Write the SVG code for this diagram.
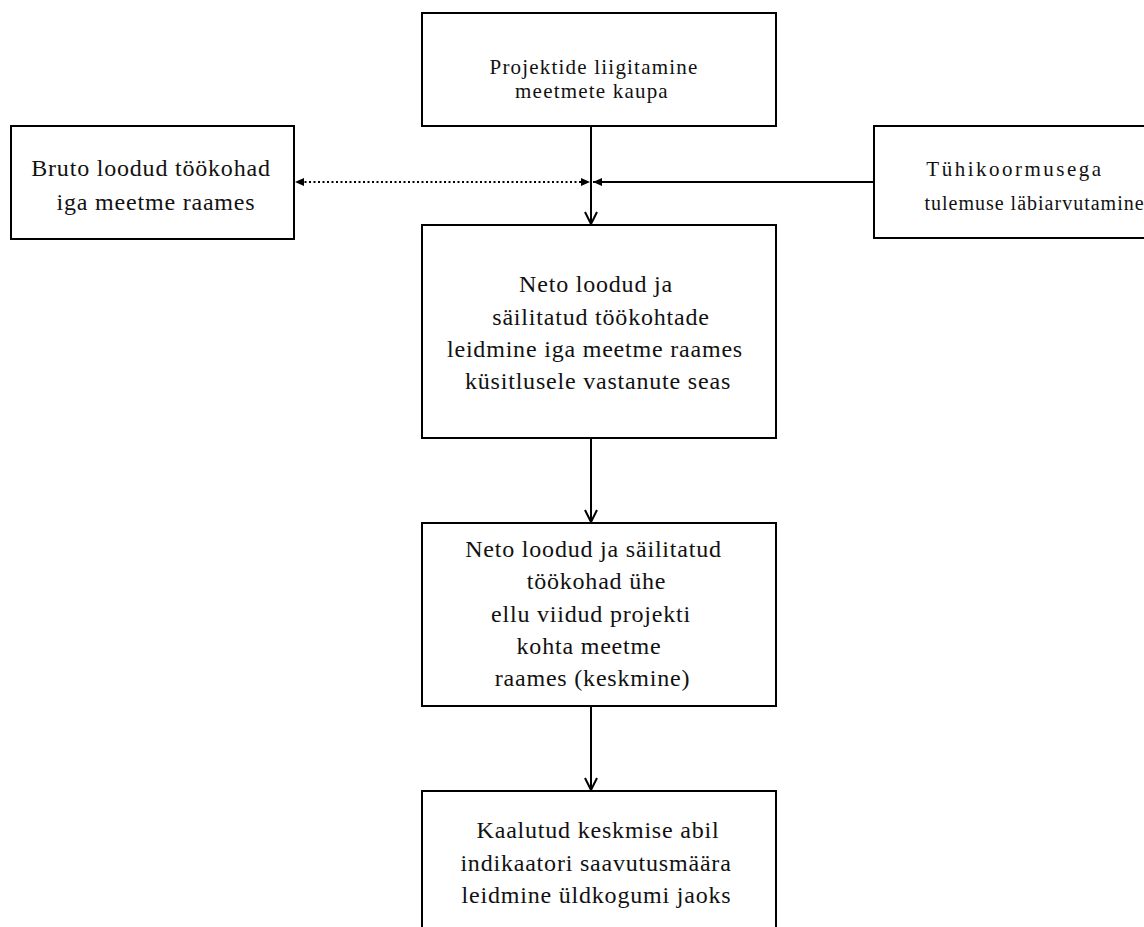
<svg xmlns="http://www.w3.org/2000/svg" width="1144" height="927" viewBox="0 0 1144 927">
<style>
.box{fill:#fff;stroke:#000;stroke-width:2}
.t{font-family:"Liberation Serif","Times New Roman",serif;fill:#111;text-anchor:middle;font-size:24px;letter-spacing:0.8px}
.ts{font-size:21px;letter-spacing:1.2px}
.tr{font-size:20px;letter-spacing:1px}
.tw{font-size:21px;letter-spacing:2.5px}
.ln{fill:none;stroke:#000;stroke-width:2}
.dot{fill:none;stroke:#000;stroke-width:2;stroke-dasharray:2 2.5}
</style>
<defs>
<marker id="open" markerWidth="14" markerHeight="16" refX="13" refY="7" orient="auto" markerUnits="userSpaceOnUse">
<path d="M1,1 L13,7 L1,13" fill="none" stroke="#000" stroke-width="2"/>
</marker>
<marker id="tri" markerWidth="10" markerHeight="10" refX="9" refY="5" orient="auto" markerUnits="userSpaceOnUse">
<path d="M0,1 L9,5 L0,9 Z" fill="#000"/>
</marker>
</defs>
<g id="n1">
<rect class="box" x="422" y="13" width="354" height="113"/>
<text class="t ts" x="594" y="74">Projektide liigitamine</text>
<text class="t ts" x="592" y="98">meetmete kaupa</text>
</g>
<g id="n2">
<rect class="box" x="11" y="126" width="283" height="113"/>
<text class="t" x="151" y="176">Bruto loodud töökohad</text>
<text class="t" x="156" y="210">iga meetme raames</text>
</g>
<g id="n3">
<rect class="box" x="874" y="126" width="290" height="112"/>
<text class="t tw" x="1015" y="176">Tühikoormusega</text>
<text class="t tr" x="1034.5" y="210">tulemuse läbiarvutamine</text>
</g>
<g id="n4">
<rect class="box" x="422" y="225" width="354" height="213"/>
<text class="t" x="596" y="292">Neto loodud ja</text>
<text class="t" x="601" y="325">säilitatud töökohtade</text>
<text class="t" x="595" y="357">leidmine iga meetme raames</text>
<text class="t" x="598" y="389">küsitlusele vastanute seas</text>
</g>
<g id="n5">
<rect class="box" x="422" y="523" width="354" height="183"/>
<text class="t" x="593.5" y="557">Neto loodud ja säilitatud</text>
<text class="t" x="596.5" y="589">töökohad ühe</text>
<text class="t" x="591" y="622">ellu viidud projekti</text>
<text class="t" x="589" y="654">kohta meetme</text>
<text class="t" x="592.5" y="686">raames (keskmine)</text>
</g>
<g id="n6">
<rect class="box" x="422" y="791" width="354" height="160"/>
<text class="t" x="598" y="838">Kaalutud keskmise abil</text>
<text class="t" x="596" y="871">indikaatori saavutusmäära</text>
<text class="t" x="596.5" y="903">leidmine üldkogumi jaoks</text>
</g>
<g id="connectors">
<line class="ln" x1="591" y1="126" x2="591" y2="224" marker-end="url(#open)"/>
<line class="ln" x1="591" y1="438" x2="591" y2="522" marker-end="url(#open)"/>
<line class="ln" x1="591" y1="706" x2="591" y2="790" marker-end="url(#open)"/>
<line class="ln" x1="874" y1="182" x2="593" y2="182" marker-end="url(#tri)"/>
<line class="dot" x1="300" y1="182" x2="586" y2="182"/>
<path d="M581,178 L590,182 L581,186 Z" fill="#000"/>
<path d="M304,178 L295,182 L304,186 Z" fill="#000"/>
</g>
</svg>
